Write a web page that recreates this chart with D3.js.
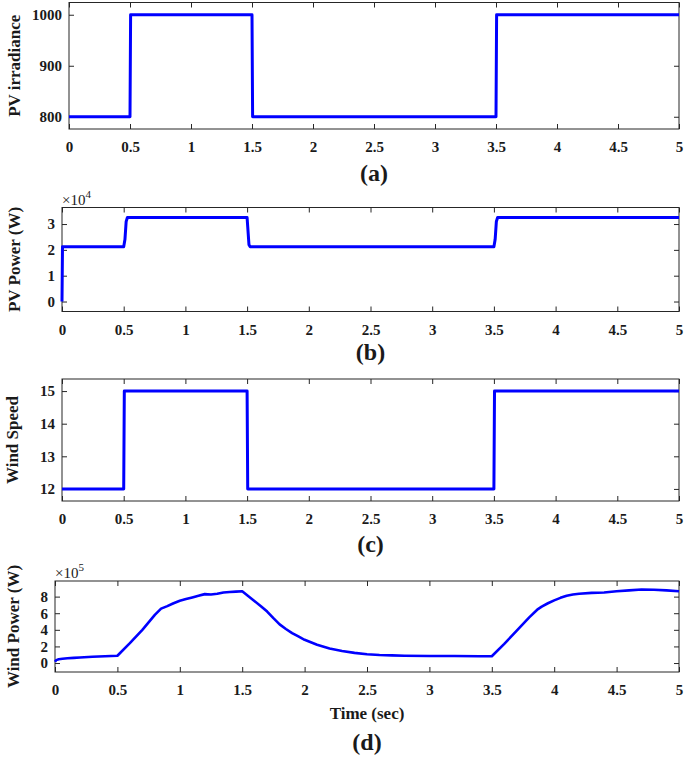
<!DOCTYPE html>
<html>
<head>
<meta charset="utf-8">
<script src="https://cdn.jsdelivr.net/npm/d3@7"></script>
<style>
  body { margin: 0; background: #fff; }
  svg text { font-family: "Liberation Serif", "Times New Roman", serif; fill: #1a1a1a; }
  .tick-label { font-size: 15px; font-weight: bold; }
  .axis-label { font-size: 17px; font-weight: bold; }
  .sub-label { font-size: 24px; font-weight: bold; }
  .exp-label { font-size: 15px; }
</style>
</head>
<body>
<svg id="chart"></svg>
<script>
// shared time axis
const timeTicks = [0, 0.5, 1, 1.5, 2, 2.5, 3, 3.5, 4, 4.5, 5];

// (a) PV irradiance
const irrTime = [0, 0.5, 0.505, 1.5, 1.505, 3.5, 3.505, 5];
const irrValue = [800, 800, 1000, 1000, 800, 800, 1000, 1000];
const irrTicks = [800, 900, 1000];

// (b) PV power, x10^4 W
const pvTime = [0, 0.004, 0.5, 0.51, 0.52, 0.53, 1.5, 1.505, 1.515, 1.525, 3.5, 3.51, 3.52, 3.53, 5];
const pvValue = [0, 2.12, 2.12, 2.4, 3.1, 3.25, 3.25, 2.9, 2.2, 2.12, 2.12, 2.4, 3.1, 3.25, 3.25];
const pvTicks = [0, 1, 2, 3];

// (c) wind speed
const wsTime = [0, 0.5, 0.505, 1.5, 1.505, 3.5, 3.505, 5];
const wsValue = [12, 12, 15, 15, 12, 12, 15, 15];
const wsTicks = [12, 13, 14, 15];

// (d) wind power, x10^5 W
const wpTime = [0, 0.01, 0.03, 0.06, 0.1, 0.15, 0.2, 0.3, 0.4, 0.5,
  0.6, 0.7, 0.8, 0.85, 0.9, 0.95, 1.0, 1.05, 1.1, 1.15, 1.2, 1.25, 1.3, 1.35, 1.4, 1.45, 1.5,
  1.55, 1.6, 1.65, 1.7, 1.75, 1.8, 1.85, 1.9, 1.95, 2.0, 2.1, 2.2, 2.3, 2.4, 2.5, 2.6, 2.7, 2.8, 3.0, 3.2, 3.4, 3.5,
  3.6, 3.7, 3.8, 3.87, 3.9, 3.95, 4.0, 4.05, 4.1, 4.15, 4.2, 4.3, 4.4, 4.5, 4.6, 4.7, 4.8, 4.9, 5.0];
const wpValue = [0.15, 0.35, 0.45, 0.52, 0.57, 0.62, 0.67, 0.75, 0.82, 0.88,
  2.4, 4.0, 5.8, 6.55, 6.85, 7.2, 7.5, 7.7, 7.9, 8.1, 8.3, 8.25, 8.35, 8.5, 8.55, 8.6, 8.65,
  8.05, 7.45, 6.85, 6.2, 5.4, 4.65, 4.1, 3.6, 3.2, 2.8, 2.2, 1.75, 1.45, 1.22, 1.06, 0.97, 0.92, 0.88, 0.85, 0.84, 0.82, 0.82,
  2.3, 3.9, 5.5, 6.5, 6.8, 7.2, 7.55, 7.85, 8.1, 8.25, 8.35, 8.45, 8.5, 8.65, 8.75, 8.85, 8.82, 8.75, 8.65];
const wpTicks = [0, 2, 4, 6, 8];

const W = 685, H = 760;

const svg = d3.select("#chart")
    .attr("width", W)
    .attr("height", H);

function drawPanel(p) {
    var x = d3.scaleLinear().domain([0, 5]).range([p.left, p.right]);
    var y = d3.scaleLinear().domain(p.yDomain).range([p.bottom, p.top]);

    var g = svg.append("g");

    // frame
    g.append("rect")
        .attr("x", p.left)
        .attr("y", p.top)
        .attr("width", p.right - p.left)
        .attr("height", p.bottom - p.top)
        .attr("fill", "none")
        .attr("stroke", "#262626")
        .attr("stroke-width", 1);

    // inward ticks on all four sides (matlab box style)
    var tickLen = 5;
    g.append("g")
        .attr("transform", "translate(0," + p.bottom + ")")
        .call(d3.axisBottom(x).tickValues(timeTicks).tickSize(-tickLen).tickFormat(d3.format("")))
        .call(a => a.select(".domain").remove())
        .call(a => a.selectAll(".tick line").attr("stroke", "#262626"))
        .call(a => a.selectAll(".tick text").attr("class", "tick-label").attr("y", 23).attr("dy", null).attr("fill", "#1a1a1a"));
    g.append("g")
        .attr("transform", "translate(0," + p.top + ")")
        .call(d3.axisTop(x).tickValues(timeTicks).tickSize(-tickLen).tickFormat(""))
        .call(a => a.select(".domain").remove())
        .call(a => a.selectAll(".tick line").attr("stroke", "#262626"));
    g.append("g")
        .attr("transform", "translate(" + p.left + ",0)")
        .call(d3.axisLeft(y).tickValues(p.yTicks).tickSize(-tickLen).tickFormat(d3.format("")))
        .call(a => a.select(".domain").remove())
        .call(a => a.selectAll(".tick line").attr("stroke", "#262626"))
        .call(a => a.selectAll(".tick text").attr("class", "tick-label").attr("x", -7).attr("fill", "#1a1a1a"));
    g.append("g")
        .attr("transform", "translate(" + p.right + ",0)")
        .call(d3.axisRight(y).tickValues(p.yTicks).tickSize(-tickLen).tickFormat(""))
        .call(a => a.select(".domain").remove())
        .call(a => a.selectAll(".tick line").attr("stroke", "#262626"));

    // the signal
    var pts = p.t.map((t, i) => [t, p.v[i]]);
    g.append("path")
        .datum(pts)
        .attr("fill", "none")
        .attr("stroke", "#0000ff")
        .attr("stroke-width", p.lineWidth)
        .attr("stroke-linejoin", "round")
        .attr("d", d3.line().x(d => x(d[0])).y(d => y(d[1])));

    // y label
    g.append("text")
        .attr("class", "axis-label")
        .attr("text-anchor", "middle")
        .attr("transform", "translate(" + p.labelX + "," + ((p.top + p.bottom) / 2) + ") rotate(-90)")
        .attr("dy", "0.35em")
        .text(p.yLabel);

    // exponent
    if (p.exp) {
        var e = g.append("text")
            .attr("class", "exp-label")
            .attr("x", p.left)
            .attr("y", p.top - 3);
        e.append("tspan").text("\u00d710");
        e.append("tspan").attr("dy", -7).attr("font-size", "11px").text(p.exp);
    }

    // panel letter
    g.append("text")
        .attr("class", "sub-label")
        .attr("text-anchor", "middle")
        .attr("x", (p.left + p.right) / 2)
        .attr("y", p.subY)
        .text(p.sub);

    if (p.xLabel) {
        g.append("text")
            .attr("class", "axis-label")
            .attr("text-anchor", "middle")
            .attr("x", (p.left + p.right) / 2)
            .attr("y", p.xLabelY)
            .text(p.xLabel);
    }
}

drawPanel({ left: 69, right: 679, top: 2.5, bottom: 129, yDomain: [776, 1024], yTicks: irrTicks,
    t: irrTime, v: irrValue, lineWidth: 3, yLabel: "PV irradiance", labelX: 14, sub: "(a)", subY: 181 });

drawPanel({ left: 62, right: 679, top: 207.5, bottom: 311.5, yDomain: [-0.386, 3.64], yTicks: pvTicks,
    t: pvTime, v: pvValue, lineWidth: 3, yLabel: "PV Power (W)", labelX: 14, exp: "4", sub: "(b)", subY: 360 });

drawPanel({ left: 62, right: 679, top: 379, bottom: 501, yDomain: [11.63, 15.37], yTicks: wsTicks,
    t: wsTime, v: wsValue, lineWidth: 3, yLabel: "Wind Speed", labelX: 12, sub: "(c)", subY: 552 });

drawPanel({ left: 55, right: 679, top: 581, bottom: 672, yDomain: [-1.08, 9.88], yTicks: wpTicks,
    t: wpTime, v: wpValue, lineWidth: 2.6, yLabel: "Wind Power (W)", labelX: 13, exp: "5",
    sub: "(d)", subY: 750, xLabel: "Time (sec)", xLabelY: 719 });
</script>
</body>
</html>
